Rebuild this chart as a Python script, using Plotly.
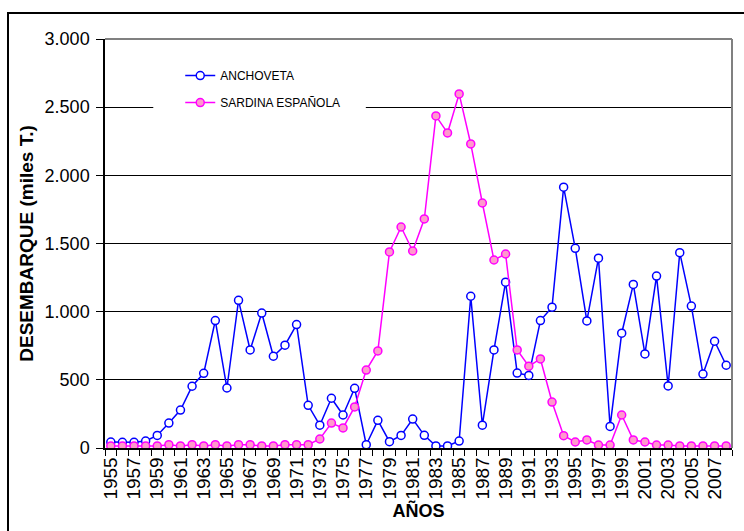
import plotly.graph_objects as go

years = list(range(1955, 2009))

anchoveta = [
    44, 42, 42, 51, 92, 183, 278, 453, 548, 935,
    440, 1083, 719, 990, 673, 754, 905, 313, 167, 365,
    242, 438, 24, 203, 46, 92, 212, 93, 15, 15,
    51, 1113, 167, 719, 1216, 550, 532, 935, 1033, 1913,
    1465, 932, 1392, 158, 842, 1200, 690, 1261, 455, 1433,
    1041, 542, 783, 607
]

sardina = [
    15, 15, 15, 15, 15, 24, 15, 24, 15, 24,
    15, 24, 24, 15, 15, 24, 24, 24, 66, 183,
    147, 301, 572, 712, 1438, 1621, 1445, 1680, 2436, 2311,
    2597, 2230, 1797, 1379, 1423, 719, 600, 653, 337, 90,
    44, 59, 22, 22, 242, 59, 44, 22, 22, 15,
    15, 15, 15, 15
]

tick_years = [y for y in years if y % 2 == 1]
tick_text = [str(y) for y in tick_years]

FONT = "Arial, Liberation Sans, sans-serif"

fig = go.Figure()

fig.add_trace(go.Scatter(
    x=years,
    y=anchoveta,
    name="ANCHOVETA",
    legendgroup="a",
    mode="lines+markers",
    line=dict(color="#0000FF", width=1.5),
    marker=dict(symbol="circle", size=8, color="white",
                line=dict(color="#0000FF", width=1.5))
))

fig.add_trace(go.Scatter(
    x=years,
    y=sardina,
    name="SARDINA ESPAÑOLA",
    legendgroup="b",
    mode="lines+markers",
    line=dict(color="#FF00FF", width=1.5),
    marker=dict(symbol="circle", size=8, color="#FF99CC",
                line=dict(color="#FF00FF", width=1.5))
))

# white box behind the legend (no data falls there, it just cuts the gridline)
fig.add_shape(type="rect", xref="paper", yref="paper",
              x0=0.077, x1=0.416, y0=0.82, y1=0.94,
              fillcolor="white", line=dict(width=0), layer="above")

# gray top/right border of plot area
fig.add_shape(type="line", xref="paper", yref="paper",
              x0=0, x1=1, y0=1, y1=1, line=dict(color="#808080", width=2))
fig.add_shape(type="line", xref="paper", yref="paper",
              x0=1, x1=1, y0=0, y1=1, line=dict(color="#808080", width=2))

# outer chart frame
fig.add_shape(type="rect", xref="paper", yref="paper",
              x0=-0.1547, x1=1.05, y0=-0.3, y1=1.0636,
              line=dict(color="black", width=2))

fig.update_layout(
    width=744,
    height=531,
    margin=dict(l=105, r=12, t=39, b=83),
    paper_bgcolor="white",
    plot_bgcolor="white",
    separators=",.",
    font=dict(family=FONT, color="black"),
    showlegend=True,
    legend=dict(
        x=0.12, y=0.946, xanchor="left", yanchor="top",
        bgcolor="rgba(0,0,0,0)",
        font=dict(size=12, family=FONT),
        traceorder="grouped",
        tracegroupgap=8,
        itemwidth=30
    )
)

fig.update_xaxes(
    range=[1954.5, 2008.5],
    tickmode="array",
    tickvals=tick_years,
    ticktext=tick_text,
    tickangle=-90,
    ticks="",
    tickfont=dict(size=19, family=FONT),
    showgrid=False,
    zeroline=False,
    showline=True,
    linecolor="black",
    linewidth=1.5,
    minor=dict(ticks="outside", tick0=1954.5, dtick=1, ticklen=6,
               tickcolor="black", showgrid=False),
    automargin=False,
    title=dict(text="<b>AÑOS</b>", font=dict(size=18, family=FONT), standoff=5)
)

fig.update_yaxes(
    range=[0, 3000],
    dtick=500,
    tickformat=",",
    ticks="outside",
    ticklen=7,
    tickcolor="black",
    tickfont=dict(size=18, family=FONT),
    ticklabelstandoff=3,
    showgrid=True,
    gridcolor="black",
    gridwidth=1,
    zeroline=False,
    showline=True,
    linecolor="black",
    linewidth=1.5,
    automargin=False,
    title=dict(text="<b>DESEMBARQUE (miles T.)</b>", font=dict(size=19, family=FONT), standoff=6)
)

fig.write_html("out.html", config={"displayModeBar": False},
               post_script="document.body.style.margin='0px';")
